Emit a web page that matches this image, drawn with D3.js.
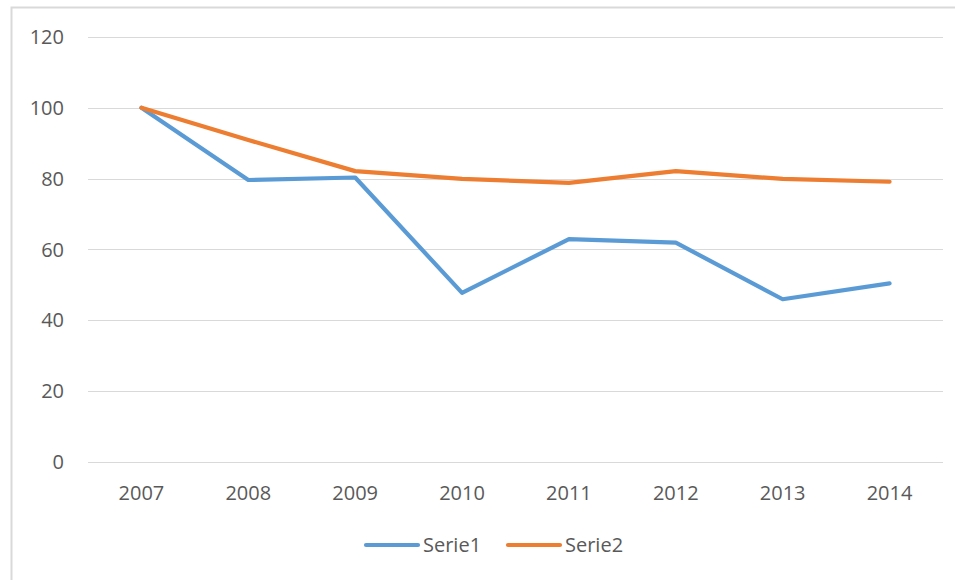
<!DOCTYPE html>
<html>
<head>
<meta charset="utf-8">
<script src="https://cdn.jsdelivr.net/npm/d3@7"></script>
<style>
  body { margin: 0; background: #fff; }
  text { font-family: "Open Sans", sans-serif; fill: #595959; }
</style>
</head>
<body>
<svg width="955" height="580"></svg>
<script>
// values
var years = ["2007", "2008", "2009", "2010", "2011", "2012", "2013", "2014"];
var serie1 = [100, 79.6, 80.3, 47.7, 62.9, 61.9, 45.9, 50.4];
var serie2 = [100, 90.9, 82.1, 79.9, 78.8, 82.1, 79.9, 79.1];
var yTicks = [0, 20, 40, 60, 80, 100, 120];

var series = [
    {name: "Serie1", values: serie1, color: "#5B9BD5"},
    {name: "Serie2", values: serie2, color: "#ED7D31"}
];

var svg = d3.select("svg");

// chart frame (right and bottom edges fall outside the picture)
svg.append("path")
    .attr("d", "M11.5,600V7.5H960")
    .attr("fill", "none")
    .attr("stroke", "#d9d9d9")
    .attr("stroke-width", 2);

var x = d3.scaleBand().domain(years).range([88, 943]);
var y = d3.scaleLinear().domain([0, 120]).range([461.7, 37]);

// gridlines
svg.append("g")
    .selectAll("line")
    .data(yTicks)
    .enter().append("line")
    .attr("x1", 88)
    .attr("x2", 943)
    .attr("y1", function (d) { return Math.round(y(d)) + 0.5; })
    .attr("y2", function (d) { return Math.round(y(d)) + 0.5; })
    .attr("stroke", "#d9d9d9")
    .attr("stroke-width", 1.2);

// y labels
svg.append("g")
    .selectAll("text")
    .data(yTicks)
    .enter().append("text")
    .attr("x", 64)
    .attr("y", function (d) { return y(d); })
    .attr("dy", "0.36em")
    .attr("text-anchor", "end")
    .style("font-size", "20px")
    .text(function (d) { return d; });

// x labels
svg.append("g")
    .selectAll("text")
    .data(years)
    .enter().append("text")
    .attr("x", function (d) { return x(d) + x.bandwidth() / 2; })
    .attr("y", 500)
    .attr("text-anchor", "middle")
    .style("font-size", "20px")
    .text(function (d) { return d; });

var line = d3.line()
    .x(function (d, i) { return x(years[i]) + x.bandwidth() / 2; })
    .y(function (d) { return y(d); });

svg.append("g")
    .selectAll("path")
    .data(series)
    .enter().append("path")
    .attr("d", function (d) { return line(d.values); })
    .attr("fill", "none")
    .attr("stroke", function (d) { return d.color; })
    .attr("stroke-width", 4.2)
    .attr("stroke-linejoin", "round")
    .attr("stroke-linecap", "round");

// legend
var legend = svg.append("g")
    .selectAll("g")
    .data(series)
    .enter().append("g")
    .attr("transform", function (d, i) { return "translate(" + (366 + i * 142) + ",545)"; });

legend.append("line")
    .attr("x1", 0)
    .attr("x2", 52)
    .attr("stroke", function (d) { return d.color; })
    .attr("stroke-width", 4.2)
    .attr("stroke-linecap", "round");

legend.append("text")
    .attr("x", 57)
    .attr("dy", "0.36em")
    .style("font-size", "20px")
    .text(function (d) { return d.name; });
</script>
</body>
</html>
